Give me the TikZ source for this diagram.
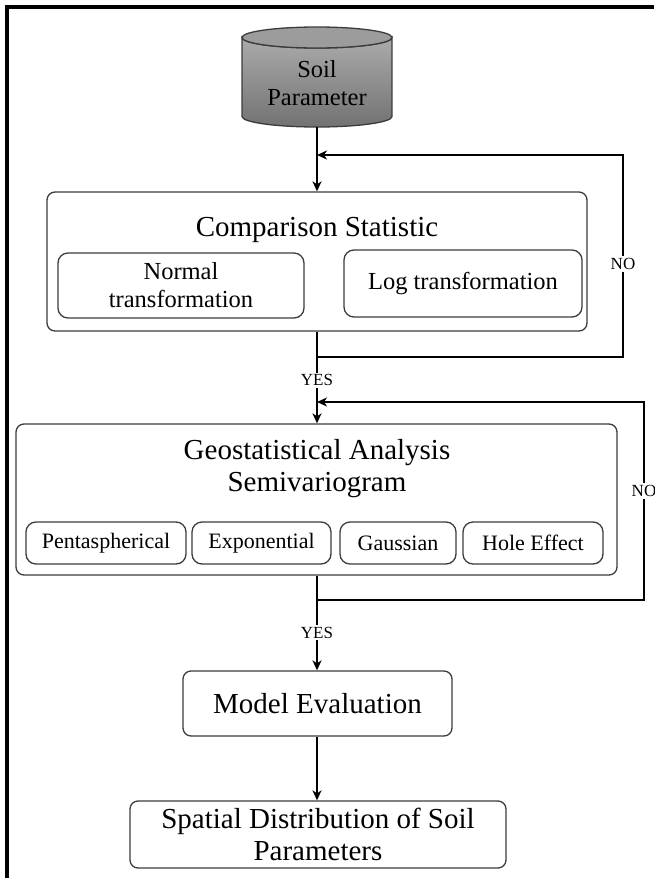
\documentclass[tikz,border=0pt]{standalone}
\usepackage{fontspec}
\setmainfont{Liberation Serif}
\usetikzlibrary{arrows.meta,positioning,calc}
\definecolor{boxline}{HTML}{3C3C3C}
\definecolor{dbtop}{HTML}{9C9C9C}
\definecolor{dblight}{HTML}{ABABAB}
\definecolor{dbdark}{HTML}{727272}
\begin{document}
\begin{tikzpicture}[x=1pt, y=-1pt, >={Stealth[length=10pt,width=9pt,inset=3pt]},
  box/.style={draw=boxline, line width=1.3pt, rounded corners=8pt, fill=white, inner sep=0pt, align=center},
  subbox/.style={box, rounded corners=10pt},
  big/.style={font=\fontsize{29}{32}\selectfont},
  mid/.style={font=\fontsize{24.5}{28}\selectfont},
  small/.style={font=\fontsize{22}{26}\selectfont},
  flow/.style={line width=2.4pt, black},
  lab/.style={font=\fontsize{17}{20}\selectfont, fill=white, inner sep=2pt}]
\useasboundingbox (0,0) rectangle (654,878);
% frame
\draw[line width=3.4pt] (7,878) -- (7,7) -- (654,7);
% database
\shade[top color=dblight, bottom color=dbdark, draw=boxline, line width=1.3pt]
  (242,37.5) -- (242,116.5) arc[start angle=180, end angle=0, x radius=75, y radius=10.5]
  -- (392,37.5) arc[start angle=0, end angle=180, x radius=75, y radius=10.5] -- cycle;
\draw[fill=dbtop, draw=boxline, line width=1.3pt] (317,37.5) ellipse[x radius=75, y radius=10.5];
\node[mid, align=center] (db) at (317,83) {Soil\\Parameter};
\coordinate (dbbot) at (317,127);
% comparison
\node[box, minimum width=540pt, minimum height=139pt] (comp) at (317,261.5) {};
\node[big] (comptitle) at (317,230) {Comparison Statistic};
\node[subbox, mid, minimum width=246pt, minimum height=65pt] (normal) at (181,285.5) {Normal\\transformation};
\node[subbox, mid, minimum width=238pt, minimum height=67pt] (logt) at (463,283.5) {Log transformation};
% geostatistics
\node[box, minimum width=601pt, minimum height=151pt] (geo) at (316.5,499.5) {};
\node[big, align=center] (geotitle) at (317,468.5) {Geostatistical Analysis\\Semivariogram};
\node[subbox, small, minimum width=160pt, minimum height=42pt] (pent) at (106,543) {Pentaspherical};
\node[subbox, small, minimum width=139pt, minimum height=42pt] (expo) at (261.5,543) {Exponential};
\node[subbox, small, minimum width=116pt, minimum height=42pt] (gauss) at (398,543) {Gaussian};
\node[subbox, small, minimum width=140pt, minimum height=42pt] (hole) at (533,543) {Hole Effect};
% results
\node[box, big, minimum width=269pt, minimum height=65pt] (model) at (317.5,703.5) {Model Evaluation};
\node[box, big, minimum width=376pt, minimum height=67pt] (spatial) at (318,834.5) {Spatial Distribution of Soil\\Parameters};
% loop points
\coordinate (out1) at (317,357);
\coordinate (r1b) at (623,357);
\coordinate (r1t) at (623,155);
\coordinate (in1) at (317,155);
\coordinate (out2) at (317,600);
\coordinate (r2b) at (644,600);
\coordinate (r2t) at (644,402);
\coordinate (in2) at (317,402);
% connectors
\draw[flow,->] (dbbot) -- (comp.north -| dbbot);
\draw[flow,->] (comp.south -| dbbot) -- node[lab, pos=0.53]{YES} (geo.north -| dbbot);
\draw[flow,->] (geo.south -| dbbot) -- node[lab, pos=0.6]{YES} (model.north -| dbbot);
\draw[flow,->] (model.south -| dbbot) -- (spatial.north -| dbbot);
\draw[flow,->] (out1) -- (r1b) -- node[lab, pos=0.46]{NO} (r1t) -- (in1);
\draw[flow,->] (out2) -- (r2b) -- node[lab, pos=0.55]{NO} (r2t) -- (in2);
\end{tikzpicture}
\end{document}
